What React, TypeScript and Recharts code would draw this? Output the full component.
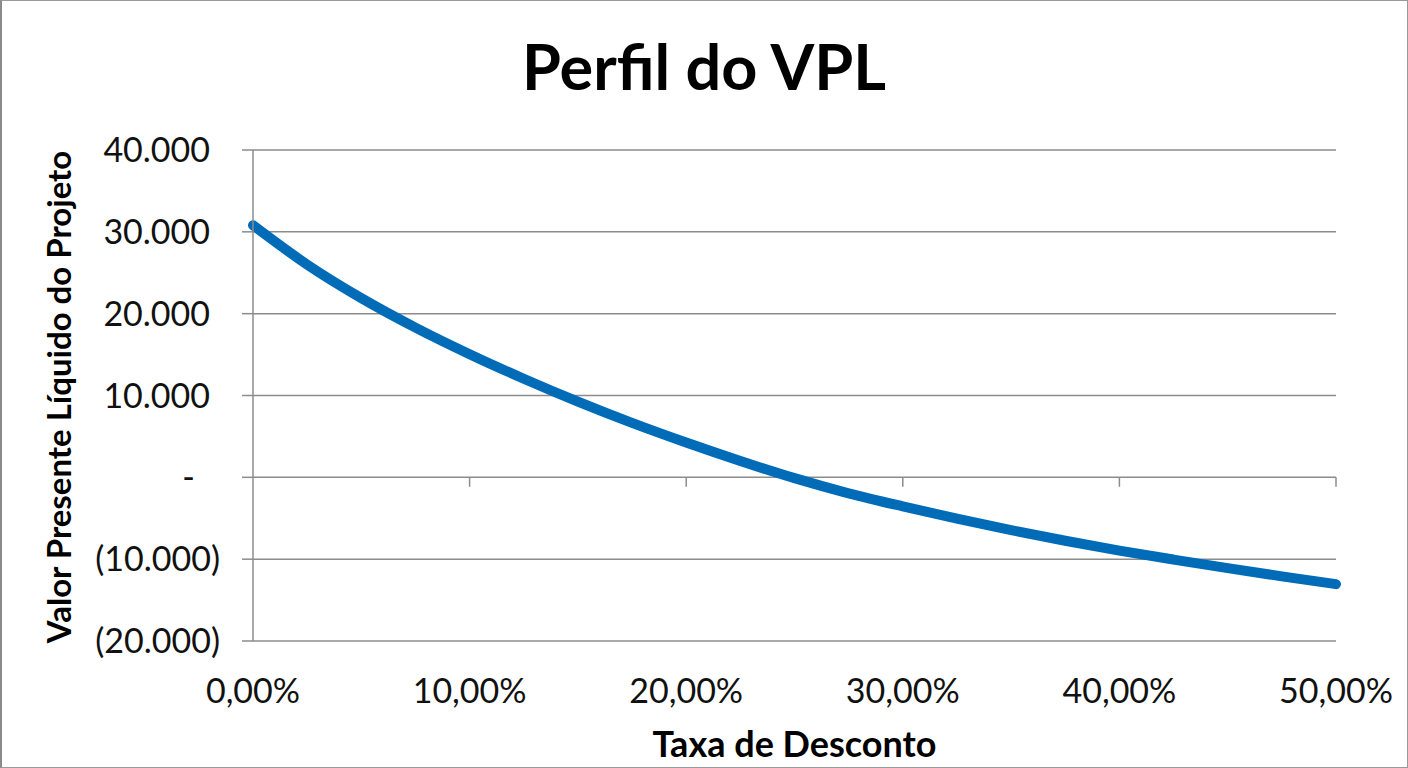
import { LineChart, Line, XAxis, YAxis, CartesianGrid, ReferenceLine } from "recharts";

// taxa de desconto (x) e VPL (y)
const rates = [
  0, 0.025, 0.05, 0.075, 0.1, 0.125, 0.15, 0.175, 0.2, 0.225, 0.25,
  0.275, 0.3, 0.325, 0.35, 0.375, 0.4, 0.425, 0.45, 0.475, 0.5,
];
const npv = [
  30800, 26000, 21900, 18300, 15050, 12050, 9250, 6650, 4250, 2000, -100,
  -1950, -3550, -5050, -6450, -7750, -8950, -10050, -11100, -12100, -13050,
];
const rateTicks = [0, 0.1, 0.2, 0.3, 0.4, 0.5];
const npvTicks = [-20000, -10000, 0, 10000, 20000, 30000, 40000];
const zeroTickRates = [0.1, 0.2, 0.3, 0.4, 0.5];

const data = rates.map((r, i) => ({ rate: r, npv: npv[i] }));

const FONT = "Lato, 'Open Sans', sans-serif";
const GRID = "#8c8c8c";
const BLUE = "#006cb8";

const fmtPct = (v: number) => (v * 100).toFixed(2).replace(".", ",") + "%";
const thousands = (v: number) => String(Math.abs(v)).replace(/\B(?=(\d{3})+(?!\d))/g, ".");

const YTick = (props: any) => {
  const { x, y, payload } = props;
  const v = payload.value;
  let text = thousands(v);
  let dx = -10;
  if (v === 0) {
    text = "-";
    dx = -25;
  } else if (v < 0) {
    text = `(${thousands(v)})`;
    dx = 0;
  }
  return (
    <text x={x + dx} y={y} dy="0.355em" textAnchor="end" fill="#111" fontSize={34} fontFamily={FONT}>
      {text}
    </text>
  );
};

const App = () => {
  return (
    <div style={{ position: "absolute", left: 0, top: 0, width: 1408, height: 768, background: "#fff" }}>
      <LineChart
        width={1408}
        height={768}
        data={data}
        margin={{ top: 150, right: 72, bottom: 27, left: 0 }}
      >
        <CartesianGrid vertical={false} stroke={GRID} strokeWidth={1.5} />
        <XAxis
          dataKey="rate"
          type="number"
          domain={[0, 0.5]}
          ticks={rateTicks}
          tickFormatter={fmtPct}
          axisLine={false}
          tickLine={false}
          tickSize={0}
          tickMargin={38}
          height={100}
          interval={0}
          tick={{ fill: "#111", fontSize: 34, fontFamily: FONT }}
        />
        <YAxis
          type="number"
          domain={[-20000, 40000]}
          ticks={npvTicks}
          width={253}
          interval={0}
          axisLine={{ stroke: GRID, strokeWidth: 1.5 }}
          tickLine={{ stroke: GRID, strokeWidth: 1.5 }}
          tickSize={11}
          tickMargin={22}
          tick={<YTick />}
        />
        {zeroTickRates.map((r) => (
          <ReferenceLine
            key={r}
            segment={[
              { x: r, y: 0 },
              { x: r, y: -1150 },
            ]}
            stroke={GRID}
            strokeWidth={1.5}
          />
        ))}
        <Line
          type="monotone"
          dataKey="npv"
          stroke={BLUE}
          strokeWidth={10}
          strokeLinecap="round"
          dot={false}
          activeDot={false}
          isAnimationActive={false}
        />
      </LineChart>
      <div
        style={{
          position: "absolute",
          left: 0,
          width: 1408,
          top: 28,
          textAlign: "center",
          fontFamily: FONT,
          fontWeight: 700,
          fontSize: 63,
          lineHeight: "normal",
          color: "#000",
        }}
      >
        Perfil do VPL
      </div>
      <div
        style={{
          position: "absolute",
          left: 253,
          width: 1083,
          top: 721,
          textAlign: "center",
          fontFamily: FONT,
          fontWeight: 700,
          fontSize: 36,
          lineHeight: "normal",
          color: "#000",
        }}
      >
        Taxa de Desconto
      </div>
      <div
        style={{
          position: "absolute",
          left: 58,
          top: 397,
          transform: "translate(-50%, -50%) rotate(-90deg)",
          whiteSpace: "nowrap",
          fontFamily: FONT,
          fontWeight: 700,
          fontSize: 33,
          lineHeight: "normal",
          color: "#000",
        }}
      >
        Valor Presente Líquido do Projeto
      </div>
      <div
        style={{
          position: "absolute",
          left: 0,
          top: 0,
          width: 1408,
          height: 768,
          boxSizing: "border-box",
          border: "1px solid #9a9a9a",
          borderLeft: "2px solid #8a8a8a",
          pointerEvents: "none",
        }}
      />
    </div>
  );
};

export default App;
